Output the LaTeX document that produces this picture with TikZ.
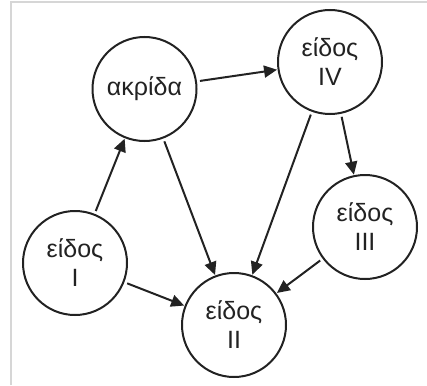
\documentclass[tikz,border=0pt]{standalone}
\usepackage{fontspec}
\setmainfont{Liberation Sans}
\usetikzlibrary{arrows.meta}
\definecolor{ink}{HTML}{222222}
\definecolor{framegray}{HTML}{D6D6D6}
\tikzset{
  species/.style={circle, draw=ink, line width=2pt, minimum size=104pt, inner sep=0pt,
    text=ink, font=\fontsize{25}{29}\selectfont, align=center},
  link/.style={draw=ink, line width=2pt, -{Triangle[length=13pt,width=12pt]},
    shorten <=3pt, shorten >=0.5pt}
}
\begin{document}
\begin{tikzpicture}[x=1pt,y=-1pt]
\useasboundingbox (0,0) rectangle (427,385);
\coordinate (fa) at (11,385);
\coordinate (fb) at (11,2);
\coordinate (fc) at (427,2);
\draw[framegray, line width=1.5pt] (fa) -- (fb) -- (fc);
\node[species] (akr) at (144.5,89) {ακρίδα};
\node[species] (iv) at (330,62) {είδος\\IV};
\node[species] (iii) at (365,227) {είδος\\III};
\node[species] (i) at (75,263) {είδος\\I};
\node[species] (ii) at (234,325) {είδος\\II};
\draw[link] (i) -- (akr);
\draw[link] (akr) -- (iv);
\draw[link] (akr) -- (ii);
\draw[link] (iv) -- (ii);
\draw[link] (iv) -- (iii);
\draw[link] (iii) -- (ii);
\draw[link] (i) -- (ii);
\end{tikzpicture}
\end{document}
